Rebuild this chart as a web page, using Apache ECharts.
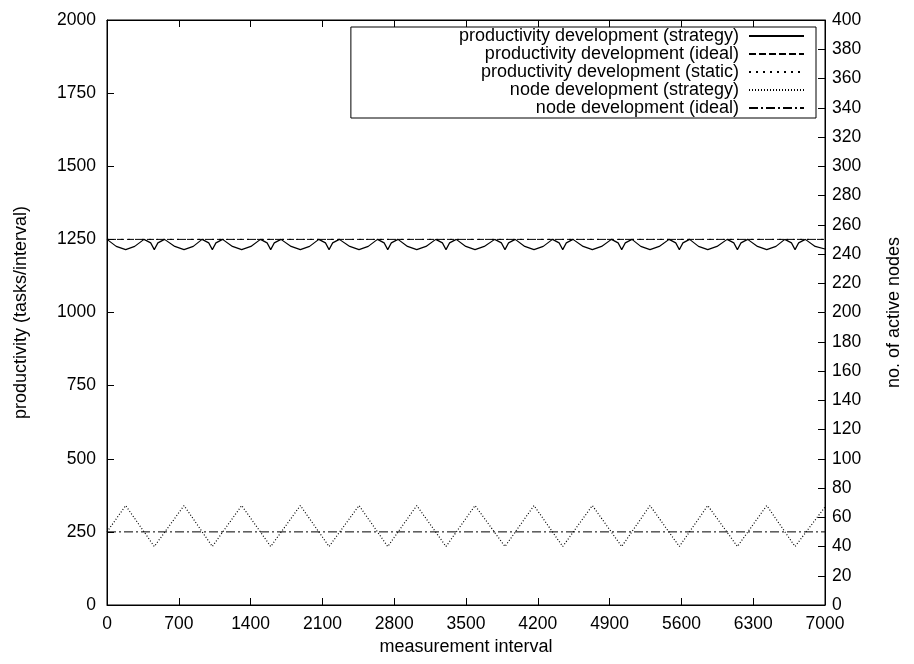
<!DOCTYPE html>
<html>
<head>
<meta charset="utf-8" />
<title></title>
<script type="text/javascript" src="https://cdn.jsdelivr.net/npm/echarts@6/dist/echarts.min.js"></script>
<style type="text/css">
	html, body { margin: 0; padding: 0; background: #fff; }
	#main { width: 914px; height: 664px; }
</style>
</head>
<body>
<div id="main"></div>
<script type="text/javascript">
// x tick labels and left/right axis ranges
var xTicks = [0, 700, 1400, 2100, 2800, 3500, 4200, 4900, 5600, 6300, 7000];

// productivity development (strategy): [interval, tasks/interval]
var prodStrategy = [
	[0,1250],[90,1226],[182,1215],[270,1226],[361,1250],[426,1238],[461,1215],[496,1238],[561,1250],
	[661,1226],[751,1215],[841,1226],[927,1250],[992,1238],[1027,1215],[1062,1238],[1127,1250],
	[1223,1226],[1313,1215],[1403,1226],[1496,1250],[1561,1238],[1596,1215],[1631,1238],[1696,1250],
	[1795,1226],[1885,1215],[1975,1226],[2065,1250],[2130,1238],[2165,1215],[2200,1238],[2265,1250],
	[2367,1226],[2457,1215],[2547,1226],[2637,1250],[2702,1238],[2737,1215],[2772,1238],[2837,1250],
	[2930,1226],[3020,1215],[3110,1226],[3205,1250],[3270,1238],[3305,1215],[3340,1238],[3405,1250],
	[3498,1226],[3588,1215],[3678,1226],[3780,1250],[3845,1238],[3880,1215],[3915,1238],[3980,1250],
	[4073,1226],[4163,1215],[4253,1226],[4343,1250],[4408,1238],[4443,1215],[4478,1238],[4543,1250],
	[4642,1226],[4732,1215],[4822,1226],[4918,1250],[4983,1238],[5018,1215],[5053,1238],[5118,1250],
	[5204,1226],[5294,1215],[5384,1226],[5480,1250],[5545,1238],[5580,1215],[5615,1238],[5680,1250],
	[5767,1226],[5857,1215],[5947,1226],[6046,1250],[6111,1238],[6146,1215],[6181,1238],[6246,1250],
	[6342,1226],[6432,1215],[6522,1226],[6608,1250],[6673,1238],[6708,1215],[6743,1238],[6808,1250],
	[6904,1226],[7000,1217]
];
// productivity development (ideal) and (static)
var prodIdeal = [[0,1250],[7000,1250]];
var prodStatic = [[0,1250],[7000,1250]];

// node development (strategy): [interval, active nodes]
var nodeStrategy = [
	[0,50],[182,68],[461,40],[751,68],[1027,40],[1313,68],[1596,40],[1885,68],[2165,40],
	[2457,68],[2737,40],[3020,68],[3305,40],[3588,68],[3880,40],[4163,68],[4443,40],
	[4732,68],[5018,40],[5294,68],[5580,40],[5857,68],[6146,40],[6432,68],[6708,40],[7000,67]
];
// node development (ideal)
var nodeIdeal = [[0,50],[7000,50]];

var font = 'Liberation Sans, Arial, Helvetica, sans-serif';
var plain = function (v) { return String(v); };
// new object for every axis
function tick() {
	return { show: true, inside: true, length: 7, lineStyle: { color: '#000', width: 1 } };
}

var myChart = echarts.init(document.getElementById('main'));
var option = {
	animation: false,
	backgroundColor: '#fff',
	textStyle: { fontFamily: font, color: '#000' },
	grid: {
		left: 107, right: 89, top: 20, bottom: 59,
		show: true, borderColor: '#000', borderWidth: 1
	},
	legend: {
		orient: 'vertical',
		align: 'right',
		right: 98,
		top: 27,
		padding: [0, 11, 1, 108],
		itemGap: 0,
		itemWidth: 55,
		itemHeight: 14,
		borderColor: '#000',
		borderWidth: 1,
		itemStyle: { opacity: 0 },
		textStyle: { fontFamily: font, fontSize: 18, color: '#000', lineHeight: 18, padding: [0, 5, 0, 0] },
		data: ['productivity development (strategy)', 'productivity development (ideal)',
			'productivity development (static)', 'node development (strategy)', 'node development (ideal)']
	},
	xAxis: [{
		type: 'value', min: 0, max: 7000, interval: 700,
		name: 'measurement interval', nameLocation: 'middle', nameGap: 33,
		nameTextStyle: { fontSize: 18, color: '#000' },
		axisLine: { show: true, onZero: false, lineStyle: { color: '#000', width: 1 } },
		axisTick: tick(),
		axisLabel: { fontSize: 17.5, color: '#000', margin: 10, formatter: plain },
		splitLine: { show: false }
	}, {
		type: 'value', min: 0, max: 7000, interval: 700, position: 'top',
		axisLine: { show: true, onZero: false, lineStyle: { color: '#000', width: 1 } },
		axisTick: tick(),
		axisLabel: { show: false },
		splitLine: { show: false }
	}],
	yAxis: [{
		type: 'value', min: 0, max: 2000, interval: 250,
		name: 'productivity (tasks/interval)', nameLocation: 'middle', nameGap: 77,
		nameTextStyle: { fontSize: 18, color: '#000' },
		axisLine: { show: true, onZero: false, lineStyle: { color: '#000', width: 1 } },
		axisTick: tick(),
		axisLabel: { fontSize: 17.5, color: '#000', margin: 11, formatter: plain },
		splitLine: { show: false }
	}, {
		type: 'value', min: 0, max: 400, interval: 20, position: 'right',
		name: 'no. of active nodes', nameLocation: 'middle', nameGap: 60,
		nameTextStyle: { fontSize: 18, color: '#000' },
		axisLine: { show: true, onZero: false, lineStyle: { color: '#000', width: 1 } },
		axisTick: tick(),
		axisLabel: { fontSize: 17.5, color: '#000', margin: 7, formatter: plain },
		splitLine: { show: false }
	}],
	series: [{
		name: 'productivity development (static)',
		type: 'line', symbol: 'none', data: prodStatic,
		lineStyle: { color: '#000', width: 1, type: [2, 5] },
		itemStyle: { color: '#000' }
	}, {
		name: 'productivity development (ideal)',
		type: 'line', symbol: 'none', data: prodIdeal,
		lineStyle: { color: '#000', width: 1, type: [7, 3] },
		itemStyle: { color: '#000' }
	}, {
		name: 'productivity development (strategy)',
		type: 'line', symbol: 'none', data: prodStrategy,
		lineStyle: { color: '#000', width: 1.2 },
		itemStyle: { color: '#000' }
	}, {
		name: 'node development (strategy)',
		type: 'line', symbol: 'none', yAxisIndex: 1, data: nodeStrategy,
		lineStyle: { color: '#000', width: 1.2, type: [1, 2] },
		itemStyle: { color: '#000' }
	}, {
		name: 'node development (ideal)',
		type: 'line', symbol: 'none', yAxisIndex: 1, data: nodeIdeal,
		lineStyle: { color: '#000', width: 1, type: [9, 3, 2, 3] },
		itemStyle: { color: '#000' }
	}]
};
if (option && typeof option === "object") {
	myChart.setOption(option, true);
}
</script>
</body>
</html>
